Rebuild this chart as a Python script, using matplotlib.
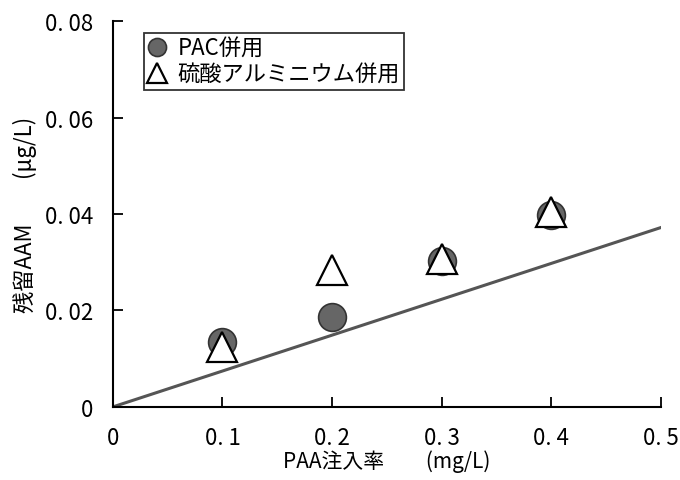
import matplotlib
matplotlib.use('Agg')
import matplotlib.pyplot as plt

plt.rcParams['font.family'] = ['Noto Sans CJK JP', 'DejaVu Sans']

# data
paa_dose = [0.1, 0.2, 0.3, 0.4]
pac_aam = [0.0134, 0.0187, 0.0302, 0.0398]
alum_aam = [0.0124, 0.0284, 0.0307, 0.0404]
fit_x = [0.0, 0.5]
fit_y = [0.0, 0.0372]

x_ticks = [0, 0.1, 0.2, 0.3, 0.4, 0.5]
x_tick_labels = ['0', '0. 1', '0. 2', '0. 3', '0. 4', '0. 5']
y_ticks = [0, 0.02, 0.04, 0.06, 0.08]
y_tick_labels = ['0', '0. 02', '0. 04', '0. 06', '0. 08']

fig = plt.figure(figsize=(6.8, 4.81), dpi=100)
ax = fig.add_axes([0.166, 0.152, 0.806, 0.802])

ax.plot(fit_x, fit_y, color='#555555', lw=2.2, zorder=2)
ax.plot(paa_dose, pac_aam, 'o', ms=20, color='#666666', mec='#333333', mew=1.2,
        label='PAC併用', zorder=3)
ax.plot(paa_dose, alum_aam, '^', ms=22, color='white', mec='black', mew=1.6,
        label='硫酸アルミニウム併用', zorder=4)

ax.set_xlim(0, 0.5)
ax.set_ylim(0, 0.08)
ax.set_xticks(x_ticks)
ax.set_xticklabels(x_tick_labels)
ax.set_yticks(y_ticks)
ax.set_yticklabels(y_tick_labels)
ax.tick_params(direction='in', length=7, width=1.3, labelsize=16, colors='black')
ax.tick_params(axis='y', pad=14)
ax.tick_params(axis='x', pad=14)

for side in ['top', 'right']:
    ax.spines[side].set_visible(False)
for side in ['left', 'bottom']:
    ax.spines[side].set_linewidth(1.5)

ax.set_xlabel('PAA注入率\u3000\u3000(mg/L)', fontsize=15, labelpad=0)
ax.set_ylabel('残留AAM\u3000\u3000(μg/L)', fontsize=16, labelpad=6)

leg = ax.legend(loc='upper left', bbox_to_anchor=(0.057, 0.97), fontsize=16,
                frameon=True, fancybox=False, edgecolor='black', handlelength=0.8,
                handletextpad=0.5, borderpad=0.2, labelspacing=0.1, markerscale=0.65,
                borderaxespad=0)
leg.get_frame().set_linewidth(1.3)

fig.savefig('out.png', dpi=100)
